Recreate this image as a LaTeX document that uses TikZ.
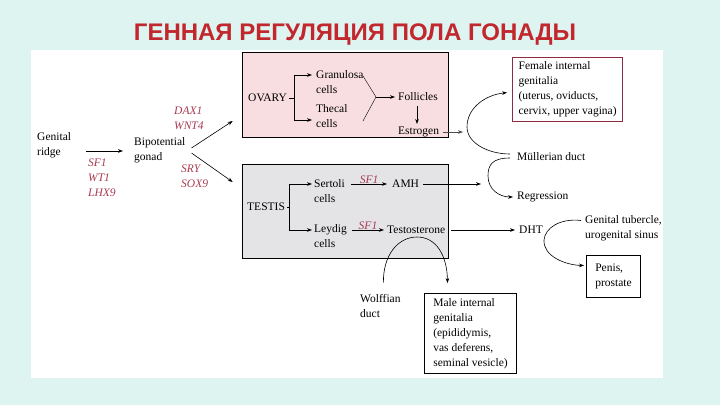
\documentclass[tikz,border=0pt]{standalone}
\usepackage{fontspec}
\setmainfont{Liberation Serif}
\newfontfamily\titlefont{Liberation Sans}
\usepackage{tikz}
\usetikzlibrary{arrows.meta, positioning}
\definecolor{slidecyan}{HTML}{DDF4F1}
\definecolor{titlered}{HTML}{C1272D}
\definecolor{genered}{HTML}{A83A52}
\definecolor{ovarypink}{HTML}{F8DEE1}
\definecolor{testisgrey}{HTML}{E4E4E7}
\definecolor{femred}{HTML}{8E2A43}
\newcommand\lblfont{\fontsize{11.5}{15}\selectfont}

\begin{document}
\begin{tikzpicture}[x=1pt, y=-1pt,
    lbl/.style={inner sep=0pt, anchor=west, align=left, font=\lblfont},
    gene/.style={lbl, font=\lblfont\itshape, text=genered},
    gonad/.style={draw, line width=0.6pt, minimum width=206pt},
    outbox/.style={draw, line width=1pt, inner xsep=6pt, align=left, anchor=north west, font=\lblfont},
    arr/.style={-{Stealth[length=5pt, width=3.6pt]}, line width=0.6pt},
]
    \fill[slidecyan] (0,0) rectangle (720,405);
    \fill[white] (31,50) rectangle (663,378);
    \node[font=\titlefont\bfseries\fontsize{24}{27}\selectfont, text=titlered] (title) at (355,35)
        {ГЕННАЯ РЕГУЛЯЦИЯ ПОЛА ГОНАДЫ};

    \node[gonad, fill=ovarypink, minimum height=85pt] (ovary) at (345,94.5) {};
    \node[gonad, fill=testisgrey, minimum height=94pt] (testis) at (345,211) {};

    \node[lbl] (ridge) at (37,145.5) {Genital\\ridge};
    \node[gene] (sfwt) at (88,177.5) {SF1\\WT1\\LHX9};
    \node[lbl] (bip) at (134,150) {Bipotential\\gonad};
    \node[gene] (dax) at (174,118.5) {DAX1\\WNT4};
    \node[gene] (sry) at (181,176.5) {SRY\\SOX9};

    \node[lbl] (ov) at (248,98) {OVARY};
    \node[lbl] (gran) at (316,82) {Granulosa\\cells};
    \node[lbl] (thec) at (316,116.5) {Thecal\\cells};
    \node[lbl] (foll) at (398,97) {Follicles};
    \node[lbl] (estr) at (398,132) {Estrogen};
    \coordinate (ovfork) at (294,98);
    \coordinate (granout) at (363,76);
    \coordinate (thecout) at (363,121);
    \coordinate (ymeet) at (376,97);
    \coordinate (follout) at (417,106);
    \coordinate (estrin) at (417,124);

    \node[lbl] (tes) at (247,207) {TESTIS};
    \node[lbl] (sert) at (314,191.5) {Sertoli\\cells};
    \node[lbl] (leyd) at (314,236) {Leydig\\cells};
    \node[lbl] (amh) at (392,184) {AMH};
    \node[lbl] (testo) at (387,230) {Testosterone};
    \node[lbl] (dht) at (519,230) {DHT};
    \coordinate (tfork) at (289,207);
    \coordinate (amhend) at (481,184);
    \coordinate (estrend) at (463,132);

    \node[lbl] (mull) at (517,157) {Müllerian duct};
    \node[lbl] (regr) at (517,197) {Regression};
    \node[lbl] (gtub) at (585,228.5) {Genital tubercle,\\urogenital sinus};
    \node[lbl] (wolf) at (360,306) {Wolffian\\duct};

    \node[outbox, draw=femred, line width=1.2pt, minimum width=107pt, minimum height=64pt] (fem) at (512,57)
        {Female internal\\genitalia\\(uterus, oviducts,\\cervix, upper vagina)};
    \node[outbox, minimum width=92pt, minimum height=80pt] (male) at (424,293)
        {Male internal\\genitalia\\(epididymis,\\vas deferens,\\seminal vesicle)};
    \node[outbox, minimum width=54pt, minimum height=42pt] (pen) at (586,255) {Penis,\\prostate};

    \draw[arr] ([xshift=15pt, yshift=-5.5pt]ridge.east) -- ([xshift=-11pt, yshift=-1pt]bip.west);
    \draw[arr] ([xshift=6pt, yshift=2pt]bip.east) -- ([xshift=-9pt, yshift=-26.5pt]ovary.west);
    \draw[arr] ([xshift=6pt, yshift=-3pt]bip.east) -- ([xshift=-9pt, yshift=29pt]testis.west);

    \draw ([xshift=2pt]ov.east) -- (ovfork);
    \draw[arr] (ovfork) |- ([xshift=-4pt, yshift=7pt]gran.west);
    \draw[arr] (ovfork) |- ([xshift=-4pt, yshift=-3.5pt]thec.west);
    \draw (granout) -- (ymeet) -- (thecout);
    \draw[arr] (ymeet) -- ([xshift=-3pt]foll.west);
    \draw[arr] (follout) -- (estrin);
    \draw[arr, black!70] ([xshift=4pt]estr.east) -- (estrend);

    \draw ([xshift=2pt]tes.east) -- (tfork);
    \draw[arr] (tfork) |- ([xshift=-2pt, yshift=7.5pt]sert.west);
    \draw[arr] (tfork) |- ([xshift=-2pt, yshift=6pt]leyd.west);
    \draw[arr] ([xshift=6pt, yshift=7.5pt]sert.east) -- node[gene, anchor=south] {SF1} ([xshift=-5pt]amh.west);
    \draw[arr] ([xshift=5pt, yshift=6pt]leyd.east) -- node[gene, anchor=south] {SF1} ([xshift=-3pt]testo.west);
    \draw[arr] ([xshift=4pt]amh.east) -- (amhend);
    \draw[arr] ([xshift=6pt]testo.east) -- ([xshift=-4pt]dht.west);

    \draw[arr] ([xshift=-7pt, yshift=3pt]mull.west) .. controls (488,154) and (467,143) .. (467,127)
        .. controls (467,108) and (485,95) .. ([xshift=-5pt, yshift=-3pt]fem.west);
    \draw[arr] ([xshift=-7pt, yshift=-1pt]mull.west) .. controls (492,158) and (488,165) .. (488,176)
        .. controls (488,190) and (500,197) .. ([xshift=-4pt]regr.west);
    \draw[arr] ([xshift=-4pt, yshift=8pt]gtub.west) .. controls (560,218) and (545,228) .. (544,240)
        .. controls (543,256) and (565,265) .. ([xshift=-2pt, yshift=11pt]pen.west);
    \draw[arr] ([xshift=3pt, yshift=11.5pt]wolf.north) .. controls (383,255) and (398,237) .. (417,237)
        .. controls (436,237) and (447,255) .. ([xshift=-23pt, yshift=10pt]male.north);
\end{tikzpicture}
\end{document}
